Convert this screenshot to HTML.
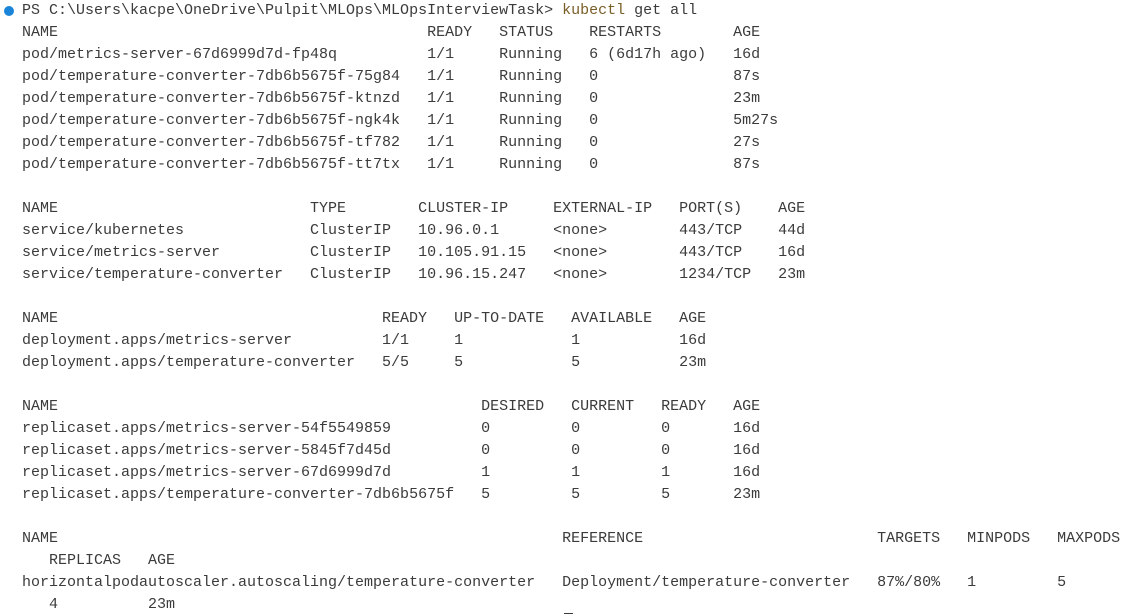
<!DOCTYPE html>
<html><head><meta charset="utf-8"><style>
html,body{margin:0;padding:0;background:#fff;width:1121px;height:616px;overflow:hidden}
#t{position:absolute;left:22px;top:0;font:15px "Liberation Mono",monospace;color:#3b3b3b}
.r{position:relative;height:22px;line-height:22px}
.r span{position:absolute;top:0;white-space:pre}
.dot{position:absolute;left:4px;top:6px;width:10px;height:10px;border-radius:50%;background:#1a85d8}
.y{color:#795e26}
</style></head><body>
<div class="dot"></div>
<div id="t"><div class="r"><span style="left:0">PS C:\Users\kacpe\OneDrive\Pulpit\MLOps\MLOpsInterviewTask&gt; <span class="y" style="position:static">kubectl</span> get all</span></div><div class="r"><span style="left:0">NAME</span><span style="left:45ch">READY</span><span style="left:53ch">STATUS</span><span style="left:63ch">RESTARTS</span><span style="left:79ch">AGE</span></div><div class="r"><span style="left:0">pod/metrics-server-67d6999d7d-fp48q</span><span style="left:45ch">1/1</span><span style="left:53ch">Running</span><span style="left:63ch">6 (6d17h ago)</span><span style="left:79ch">16d</span></div><div class="r"><span style="left:0">pod/temperature-converter-7db6b5675f-75g84</span><span style="left:45ch">1/1</span><span style="left:53ch">Running</span><span style="left:63ch">0</span><span style="left:79ch">87s</span></div><div class="r"><span style="left:0">pod/temperature-converter-7db6b5675f-ktnzd</span><span style="left:45ch">1/1</span><span style="left:53ch">Running</span><span style="left:63ch">0</span><span style="left:79ch">23m</span></div><div class="r"><span style="left:0">pod/temperature-converter-7db6b5675f-ngk4k</span><span style="left:45ch">1/1</span><span style="left:53ch">Running</span><span style="left:63ch">0</span><span style="left:79ch">5m27s</span></div><div class="r"><span style="left:0">pod/temperature-converter-7db6b5675f-tf782</span><span style="left:45ch">1/1</span><span style="left:53ch">Running</span><span style="left:63ch">0</span><span style="left:79ch">27s</span></div><div class="r"><span style="left:0">pod/temperature-converter-7db6b5675f-tt7tx</span><span style="left:45ch">1/1</span><span style="left:53ch">Running</span><span style="left:63ch">0</span><span style="left:79ch">87s</span></div><div class="r"></div><div class="r"><span style="left:0">NAME</span><span style="left:32ch">TYPE</span><span style="left:44ch">CLUSTER-IP</span><span style="left:59ch">EXTERNAL-IP</span><span style="left:73ch">PORT(S)</span><span style="left:84ch">AGE</span></div><div class="r"><span style="left:0">service/kubernetes</span><span style="left:32ch">ClusterIP</span><span style="left:44ch">10.96.0.1</span><span style="left:59ch">&lt;none&gt;</span><span style="left:73ch">443/TCP</span><span style="left:84ch">44d</span></div><div class="r"><span style="left:0">service/metrics-server</span><span style="left:32ch">ClusterIP</span><span style="left:44ch">10.105.91.15</span><span style="left:59ch">&lt;none&gt;</span><span style="left:73ch">443/TCP</span><span style="left:84ch">16d</span></div><div class="r"><span style="left:0">service/temperature-converter</span><span style="left:32ch">ClusterIP</span><span style="left:44ch">10.96.15.247</span><span style="left:59ch">&lt;none&gt;</span><span style="left:73ch">1234/TCP</span><span style="left:84ch">23m</span></div><div class="r"></div><div class="r"><span style="left:0">NAME</span><span style="left:40ch">READY</span><span style="left:48ch">UP-TO-DATE</span><span style="left:61ch">AVAILABLE</span><span style="left:73ch">AGE</span></div><div class="r"><span style="left:0">deployment.apps/metrics-server</span><span style="left:40ch">1/1</span><span style="left:48ch">1</span><span style="left:61ch">1</span><span style="left:73ch">16d</span></div><div class="r"><span style="left:0">deployment.apps/temperature-converter</span><span style="left:40ch">5/5</span><span style="left:48ch">5</span><span style="left:61ch">5</span><span style="left:73ch">23m</span></div><div class="r"></div><div class="r"><span style="left:0">NAME</span><span style="left:51ch">DESIRED</span><span style="left:61ch">CURRENT</span><span style="left:71ch">READY</span><span style="left:79ch">AGE</span></div><div class="r"><span style="left:0">replicaset.apps/metrics-server-54f5549859</span><span style="left:51ch">0</span><span style="left:61ch">0</span><span style="left:71ch">0</span><span style="left:79ch">16d</span></div><div class="r"><span style="left:0">replicaset.apps/metrics-server-5845f7d45d</span><span style="left:51ch">0</span><span style="left:61ch">0</span><span style="left:71ch">0</span><span style="left:79ch">16d</span></div><div class="r"><span style="left:0">replicaset.apps/metrics-server-67d6999d7d</span><span style="left:51ch">1</span><span style="left:61ch">1</span><span style="left:71ch">1</span><span style="left:79ch">16d</span></div><div class="r"><span style="left:0">replicaset.apps/temperature-converter-7db6b5675f</span><span style="left:51ch">5</span><span style="left:61ch">5</span><span style="left:71ch">5</span><span style="left:79ch">23m</span></div><div class="r"></div><div class="r"><span style="left:0">NAME</span><span style="left:60ch">REFERENCE</span><span style="left:95ch">TARGETS</span><span style="left:105ch">MINPODS</span><span style="left:115ch">MAXPODS</span></div><div class="r"><span style="left:3ch">REPLICAS</span><span style="left:14ch">AGE</span></div><div class="r"><span style="left:0">horizontalpodautoscaler.autoscaling/temperature-converter</span><span style="left:60ch">Deployment/temperature-converter</span><span style="left:95ch">87%/80%</span><span style="left:105ch">1</span><span style="left:115ch">5</span></div><div class="r"><span style="left:3ch">4</span><span style="left:14ch">23m</span></div></div>
<div style="position:absolute;left:564px;top:613px;width:9px;height:1px;background:#3b3b3b"></div>
</body></html>
